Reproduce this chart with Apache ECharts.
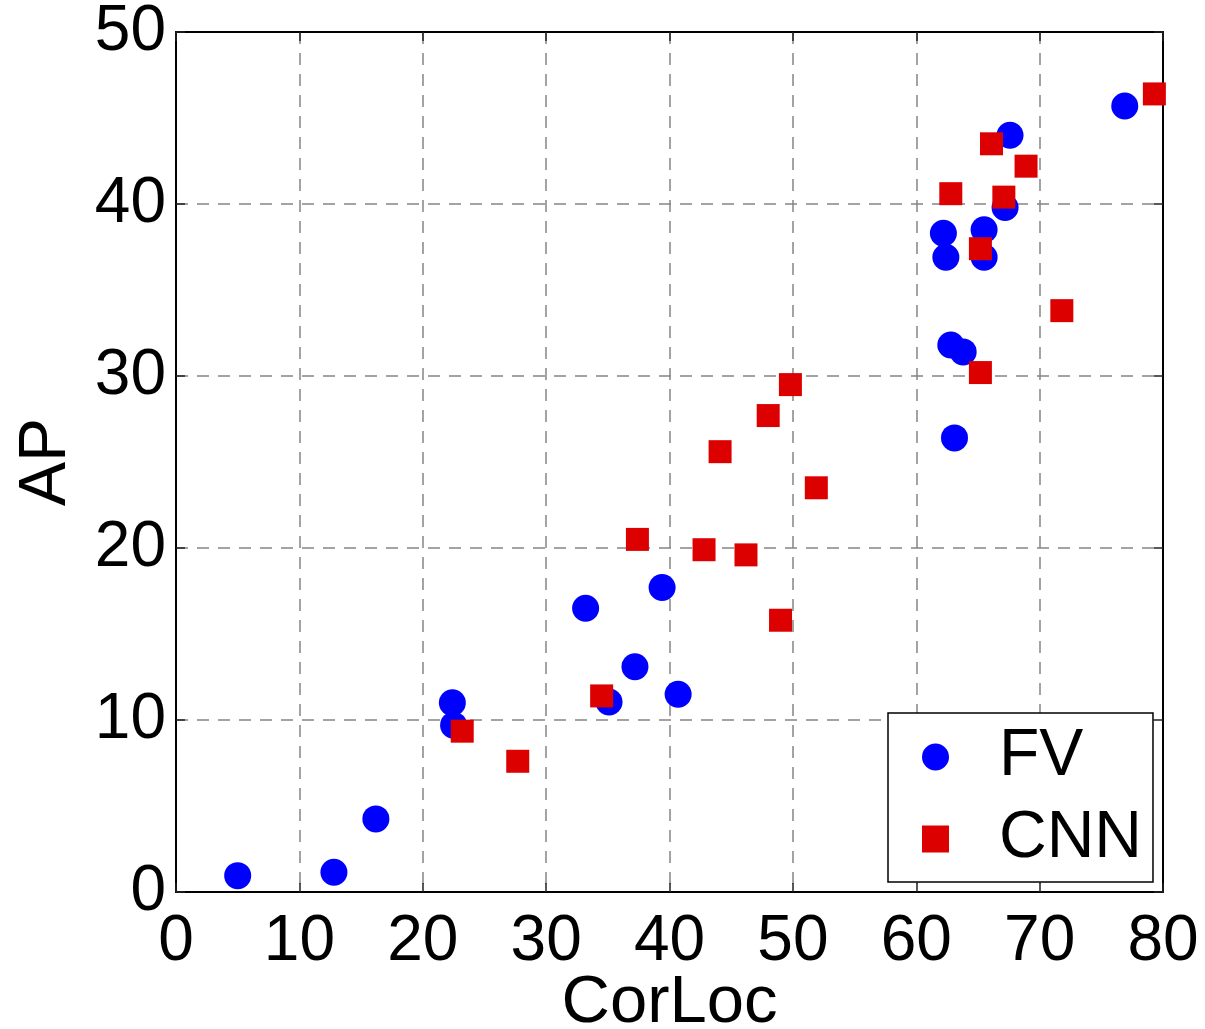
<!DOCTYPE html>
<html>
<head>
<meta charset="utf-8">
<script src="https://cdn.jsdelivr.net/npm/echarts@6/dist/echarts.min.js"></script>
<style>
  html, body { margin: 0; padding: 0; background: #fff; }
  #chart { width: 1205px; height: 1029px; }
</style>
</head>
<body>
<div id="chart"></div>
<script>
// ---------- data ----------
const fvCorLoc = [5.0, 12.8, 16.2, 22.4, 22.5, 33.2, 35.1, 37.2, 39.4, 40.7, 62.2, 62.4, 62.8, 63.1, 63.8, 65.5, 65.5, 67.2, 67.6, 76.9];
const fvAP     = [0.95, 1.15, 4.25, 11.0, 9.7, 16.5, 11.05, 13.1, 17.7, 11.5, 38.3, 36.9, 31.8, 26.4, 31.4, 38.5, 36.9, 39.8, 44.0, 45.7];

const cnnCorLoc = [23.2, 27.7, 34.5, 37.4, 42.8, 44.1, 46.2, 48.0, 49.0, 49.8, 51.9, 62.8, 65.2, 65.2, 66.1, 67.1, 68.9, 71.8, 79.3];
const cnnAP     = [9.35, 7.6, 11.4, 20.5, 19.9, 25.6, 19.6, 27.7, 15.8, 29.5, 23.5, 40.6, 37.4, 30.2, 43.5, 40.4, 42.2, 33.8, 46.4];

const xTicks = [0, 80, 10]; // min, max, interval
const yTicks = [0, 50, 10];

const pair = (xs, ys) => xs.map((x, i) => [x, ys[i]]);

// ---------- chart ----------
const chart = echarts.init(document.getElementById('chart'));
const font = 'Liberation Sans, Arial, Helvetica, sans-serif';

const gridDash = {
  show: true,
  lineStyle: { color: '#858585', width: 1.5, type: [12, 9] },
};
const tickIn = { show: true, inside: true, length: 9, lineStyle: { color: '#222', width: 1.5 } };
const boxLine = { show: true, onZero: false, lineStyle: { color: '#000', width: 2 } };

chart.setOption({
  backgroundColor: '#fff',
  animation: false,
  grid: { left: 176, right: 42, top: 32, bottom: 137, containLabel: false, outerBoundsMode: 'none' },
  xAxis: [
    {
      type: 'value',
      min: xTicks[0], max: xTicks[1], interval: xTicks[2],
      name: 'CorLoc',
      nameLocation: 'middle',
      nameGap: 78,
      nameMoveOverlap: false,
      nameTextStyle: { fontFamily: font, fontSize: 67, color: '#000' },
      axisLine: boxLine,
      axisTick: tickIn,
      axisLabel: { fontFamily: font, fontSize: 64, color: '#000', margin: 18 },
      splitLine: gridDash,
    },
    {
      type: 'value', position: 'top',
      min: xTicks[0], max: xTicks[1], interval: xTicks[2],
      axisLine: boxLine, axisTick: tickIn,
      axisLabel: { show: false }, splitLine: { show: false },
    },
  ],
  yAxis: [
    {
      type: 'value',
      min: yTicks[0], max: yTicks[1], interval: yTicks[2],
      name: 'AP',
      nameLocation: 'middle',
      nameGap: 96,
      nameMoveOverlap: false,
      nameRotate: 90,
      nameTextStyle: { fontFamily: font, fontSize: 66, color: '#000' },
      axisLine: boxLine,
      axisTick: tickIn,
      axisLabel: { fontFamily: font, fontSize: 64, color: '#000', margin: 10 },
      splitLine: gridDash,
    },
    {
      type: 'value', position: 'right',
      min: yTicks[0], max: yTicks[1], interval: yTicks[2],
      axisLine: boxLine, axisTick: tickIn,
      axisLabel: { show: false }, splitLine: { show: false },
    },
  ],
  legend: {
    orient: 'vertical',
    left: 888,
    top: 713,
    backgroundColor: '#fff',
    borderColor: '#000',
    borderWidth: 1.5,
    padding: [11, 11, 10, 34],
    itemGap: 16,
    itemWidth: 27,
    itemHeight: 27,
    textStyle: { fontFamily: font, fontSize: 66, lineHeight: 66, color: '#000', padding: [0, 0, 0, 45] },
    data: [
      { name: 'FV', icon: 'circle' },
      { name: 'CNN', icon: 'rect' },
    ],
  },
  series: [
    {
      name: 'FV',
      type: 'scatter',
      symbol: 'circle',
      symbolSize: 27,
      itemStyle: { color: '#0000ff', opacity: 1 },
      data: pair(fvCorLoc, fvAP),
    },
    {
      name: 'CNN',
      type: 'scatter',
      symbol: 'rect',
      symbolSize: 23,
      itemStyle: { color: '#dd0000', opacity: 1 },
      data: pair(cnnCorLoc, cnnAP),
    },
  ],
});
</script>
</body>
</html>
